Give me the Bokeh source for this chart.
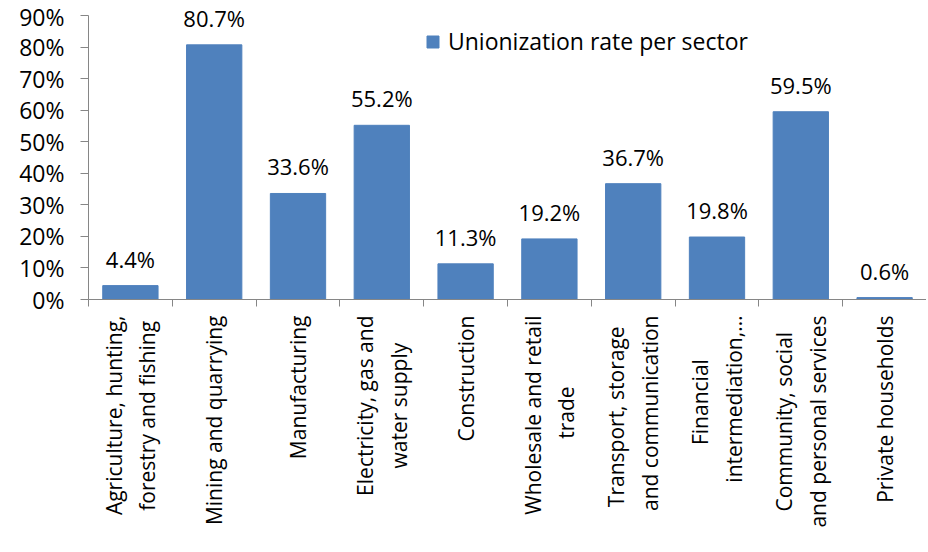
import math
from bokeh.plotting import figure
from bokeh.models import Range1d, FixedTicker, NumeralTickFormatter, ColumnDataSource, Legend, LegendItem
from bokeh.core.properties import value
from bokeh.embed import file_html
from bokeh.resources import INLINE

categories = [
    ["Agriculture, hunting,", "forestry and fishing"],
    ["Mining and quarrying"],
    ["Manufacturing"],
    ["Electricity, gas and", "water supply"],
    ["Construction"],
    ["Wholesale and retail", "trade"],
    ["Transport, storage", "and communication"],
    ["Financial", "intermediation,…"],
    ["Community, social", "and personal services"],
    ["Private households"],
]
rates = [0.044, 0.807, 0.336, 0.552, 0.113, 0.192, 0.367, 0.198, 0.595, 0.006]
y_ticks = [0.0, 0.1, 0.2, 0.3, 0.4, 0.5, 0.6, 0.7, 0.8, 0.9]
series_name = "Unionization rate per sector"

FONT = "Open Sans"
BAR = "#4F81BD"
AXIS = "#868686"
NBSP = "\u00a0"
# Bokeh right-aligns the lines of a rotated tick label; trailing no-break
# spaces move a shorter line towards the middle so the lines look centred.
LINE_PAD = {0: (0, 1), 3: (0, 5), 5: (0, 13), 6: (2, 0), 7: (8, 0), 8: (3, 0)}

n = len(categories)
centers = [i + 0.5 for i in range(n)]


def tick_text(i, lines):
    pads = LINE_PAD.get(i, (0,) * len(lines))
    return "\n".join(line + NBSP * k for line, k in zip(lines, pads))


src = ColumnDataSource(dict(
    x=centers,
    top=rates,
    label=[f"{r*100:.1f}%" for r in rates],
))

p = figure(
    output_backend="svg", toolbar_location=None,
    width=926, height=551,
    x_range=Range1d(0, n), y_range=Range1d(0, 0.9475),
    min_border_left=88, min_border_top=0, min_border_right=0, min_border_bottom=252,
)
p.outline_line_color = None
p.xgrid.visible = False
p.ygrid.visible = False

bars = p.vbar(x="x", top="top", width=0.66, bottom=0, source=src,
              fill_color=BAR, line_color=BAR)

p.text(x="x", y="top", text="label", source=src,
       text_font=value(FONT), text_font_size="22px", text_color="#000000",
       text_align="center", text_baseline="bottom", y_offset=-12)

# y axis
ya = p.yaxis[0]
ya.ticker = FixedTicker(ticks=y_ticks)
ya.bounds = (0, 0.9)
ya.formatter = NumeralTickFormatter(format="0%")
ya.axis_line_color = AXIS
ya.major_tick_line_color = AXIS
ya.major_tick_in = 0
ya.major_tick_out = 8
ya.minor_tick_line_color = None
ya.major_label_text_font = FONT
ya.major_label_text_font_size = "23px"
ya.major_label_text_color = "#000000"
ya.major_label_standoff = 16

# x axis: boundary ticks as minor ticks, labels at centres
xa = p.xaxis[0]
xa.ticker = FixedTicker(ticks=centers, minor_ticks=list(range(n + 1)))
xa.major_label_overrides = {c: tick_text(i, lab) for i, (c, lab) in enumerate(zip(centers, categories))}
xa.major_label_orientation = math.pi / 2
xa.axis_line_color = AXIS
xa.major_tick_line_color = None
xa.minor_tick_line_color = AXIS
xa.minor_tick_in = 0
xa.minor_tick_out = 7
xa.major_label_text_font = FONT
xa.major_label_text_font_size = "21px"
xa.major_label_text_color = "#000000"
xa.major_label_standoff = 9
xa.axis_label_standoff = 0

legend = Legend(items=[LegendItem(label=series_name, renderers=[bars])],
                location=(337, 242), orientation="vertical")
legend.border_line_color = None
legend.background_fill_alpha = 0
legend.padding = 0
legend.margin = 0
legend.glyph_width = 15
legend.glyph_height = 15
legend.label_standoff = 8
legend.label_text_font = FONT
legend.label_text_font_size = "23px"
legend.label_text_color = "#000000"
p.add_layout(legend)

open("out.html", "w").write(file_html(p, INLINE))
